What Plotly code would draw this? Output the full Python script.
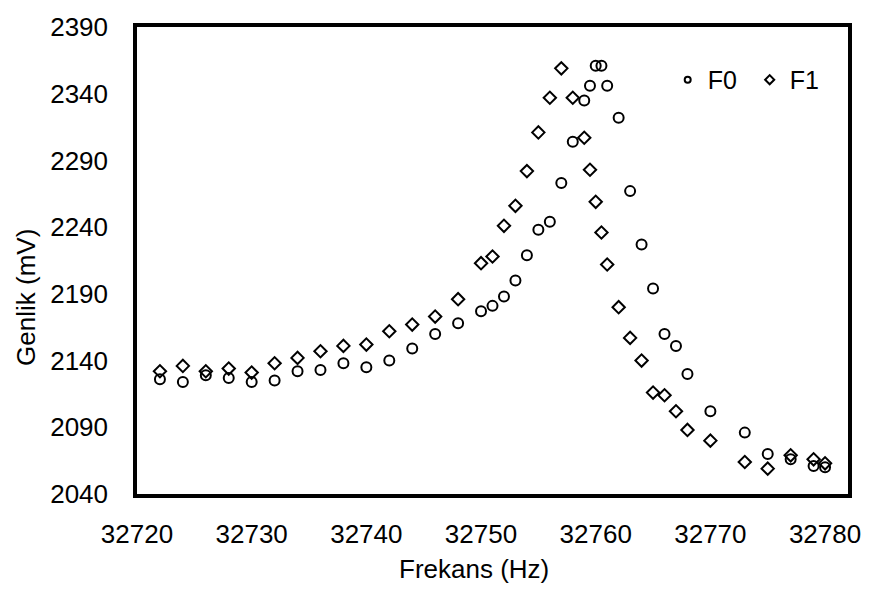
import plotly.graph_objects as go

freq_f0 = [32722, 32724, 32726, 32728, 32730, 32732, 32734, 32736, 32738, 32740,
           32742, 32744, 32746, 32748, 32750, 32751, 32752, 32753, 32754, 32755,
           32756, 32757, 32758, 32759, 32759.5, 32760, 32760.5, 32761, 32762, 32763,
           32764, 32765, 32766, 32767, 32768, 32770, 32773, 32775, 32777, 32779, 32780]
amp_f0 = [2126, 2124, 2129, 2127, 2124, 2125, 2132, 2133, 2138, 2135,
          2140, 2149, 2160, 2168, 2177, 2181, 2188, 2200, 2219, 2238,
          2244, 2273, 2304, 2335, 2346, 2361, 2361, 2346, 2322, 2267,
          2227, 2194, 2160, 2151, 2130, 2102, 2086, 2070, 2066, 2061, 2060]

freq_f1 = [32722, 32724, 32726, 32728, 32730, 32732, 32734, 32736, 32738, 32740,
           32742, 32744, 32746, 32748, 32750, 32751, 32752, 32753, 32754, 32755,
           32756, 32757, 32758, 32759, 32759.5, 32760, 32760.5, 32761, 32762, 32763,
           32764, 32765, 32766, 32767, 32768, 32770, 32773, 32775, 32777, 32779, 32780]
amp_f1 = [2132, 2136, 2132, 2134, 2131, 2138, 2142, 2147, 2151, 2152,
          2162, 2167, 2173, 2186, 2213, 2218, 2241, 2256, 2282, 2311,
          2337, 2359, 2337, 2307, 2283, 2259, 2236, 2212, 2180, 2157,
          2140, 2116, 2114, 2102, 2088, 2080, 2064, 2059, 2069, 2066, 2063]

x_ticks = [32720, 32730, 32740, 32750, 32760, 32770, 32780]
y_ticks = [2040, 2090, 2140, 2190, 2240, 2290, 2340, 2390]

FONT = "Liberation Sans, Arial, sans-serif"

fig = go.Figure()
fig.add_trace(go.Scatter(
    x=freq_f0, y=amp_f0, mode="markers", name="F0", showlegend=False,
    marker=dict(symbol="circle-open", size=10, color="black", line=dict(width=2, color="black")),
))
fig.add_trace(go.Scatter(
    x=freq_f1, y=amp_f1, mode="markers", name="F1", showlegend=False,
    marker=dict(symbol="diamond-open", size=9.5, color="black", line=dict(width=2, color="black")),
))
# legend entries with smaller symbols
fig.add_trace(go.Scatter(
    x=[None], y=[None], mode="markers", name="F0",
    marker=dict(symbol="circle-open", size=6, color="black", line=dict(width=2, color="black")),
))
fig.add_trace(go.Scatter(
    x=[None], y=[None], mode="markers", name="F1",
    marker=dict(symbol="diamond-open", size=7, color="black", line=dict(width=2, color="black")),
))

fig.update_layout(
    width=873, height=591,
    margin=dict(l=137, r=18, t=18, b=97),
    paper_bgcolor="white", plot_bgcolor="white",
    font=dict(family=FONT, size=26, color="black"),
    legend=dict(orientation="h", x=0.7464, xanchor="left", y=0.8866, yanchor="middle",
                bgcolor="rgba(0,0,0,0)", font=dict(size=25), itemwidth=30,
                entrywidth=37, tracegroupgap=0),
    showlegend=True,
    annotations=[
        dict(text="Frekans (Hz)", xref="paper", yref="paper", x=0.4735, y=-0.1597,
             xanchor="center", yanchor="middle", showarrow=False, font=dict(size=26)),
        dict(text="Genlik (mV)", xref="paper", yref="paper", x=-0.156, y=0.420,
             xanchor="center", yanchor="middle", textangle=-90, showarrow=False,
             font=dict(size=26)),
    ],
)
fig.update_xaxes(range=[32720, 32782], tickvals=x_ticks, ticktext=[str(v) for v in x_ticks],
                 showgrid=False, zeroline=False, showline=True, linecolor="black",
                 linewidth=3.5, mirror=True, ticks="", ticklabelstandoff=14)
fig.update_yaxes(range=[2040, 2390], tickvals=y_ticks, ticktext=[str(v) for v in y_ticks],
                 showgrid=False, zeroline=False, showline=True, linecolor="black",
                 linewidth=3.5, mirror=True, ticks="", ticklabelstandoff=20)

fig.write_html("out.html")
